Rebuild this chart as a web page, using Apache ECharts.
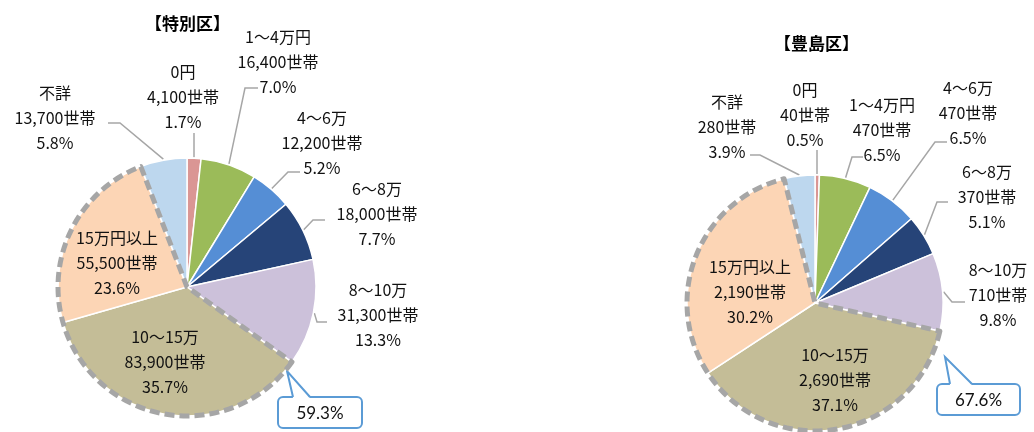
<!DOCTYPE html>
<html><head><meta charset="utf-8">
<script src="https://cdn.jsdelivr.net/npm/echarts@6/dist/echarts.min.js"></script>
<style>html,body{margin:0;padding:0;background:#fff}#c{width:1034px;height:432px}</style>
</head><body><div id="c"></div>
<script>
const categories = ['0円', '1～4万円', '4～6万', '6～8万', '8～10万', '10～15万', '15万円以上', '不詳'];
const tokubetsuHouseholds = [4100, 16400, 12200, 18000, 31300, 83900, 55500, 13700];
const tokubetsuPct = [1.7, 7.0, 5.2, 7.7, 13.3, 35.7, 23.6, 5.8];
const toshimaHouseholds = [40, 470, 470, 370, 710, 2690, 2190, 280];
const toshimaPct = [0.5, 6.5, 6.5, 5.1, 9.8, 37.1, 30.2, 3.9];
const titles = ['【特別区】', '【豊島区】'];
const sliceColors = ['#DA9694', '#9BBB59', '#558ED5', '#264478', '#CCC1DA', '#C4BD97', '#FCD5B5', '#BDD7EE'];
const highlighted = [5, 6]; // 10～15万 + 15万円以上

const FONT = '"Noto Sans CJK JP", sans-serif';
const insideIdx = new Set(highlighted);

// ---- layout only: label block centres and leader elbows/ends ----
const leftLabelPos = [[183, 97], [278, 62], [322, 143], [377, 214], [378, 315], [165, 362], [117, 263], [55, 118]];
const rightLabelPos = [[805, 115], [882, 130], [968, 113], [987, 197], [998, 295], [835, 380], [750, 292], [727, 127]];
const leftLeader = { 0: [[194, 133], [194, 133]], 1: [[245, 88], [258, 88]], 2: [[288, 172], [300, 172]], 3: [[313, 220], [325, 220]], 4: [[317, 322], [327, 322]], 7: [[120, 123], [108, 123]] };
const rightLeader = { 0: [[817, 150], [817, 150]], 1: [[852, 157], [863, 157]], 2: [[935, 142], [947, 142]], 3: [[937, 202], [948, 202]], 4: [[952, 302], [965, 302]], 7: [[760, 155], [750, 155]] };

function fmt(n) { return n.toLocaleString('en-US'); }

function midArcPoint(values, idx, center, radius) {
  const total = values.reduce((a, b) => a + b, 0);
  const before = values.slice(0, idx).reduce((a, b) => a + b, 0);
  const frac = (before + values[idx] / 2) / total;
  const ang = frac * 2 * Math.PI; // clockwise from top
  return [center[0] + (radius + 1) * Math.sin(ang), center[1] - (radius + 1) * Math.cos(ang)];
}

function buildPie(name, values, pcts, center, radius, posTable, leaders) {
  return {
    type: 'pie', name: name, center: center, radius: radius,
    startAngle: 90, clockwise: true, avoidLabelOverlap: false, silent: true,
    itemStyle: { borderColor: '#fff', borderWidth: 1.5 },
    label: {
      show: true, position: 'outside', fontFamily: FONT, fontSize: 16, lineHeight: 25, color: '#111',
      formatter: p => p.name + '\n' + fmt(values[p.dataIndex]) + '世帯\n' + pcts[p.dataIndex].toFixed(1) + '%'
    },
    labelLine: { show: true, length: 10, length2: 10, smooth: false, lineStyle: { color: '#A6A6A6', width: 1.5 } },
    labelLayout: p => {
      const i = p.dataIndex, q = posTable[i];
      const out = { x: q[0], y: q[1], align: 'center', verticalAlign: 'middle' };
      if (leaders[i]) {
        const s = midArcPoint(values, i, center, radius);
        if (i === 0) s[0] = leaders[i][0][0];
        out.labelLinePoints = [s, leaders[i][0], leaders[i][1]];
      }
      return out;
    },
    data: categories.map((c, i) => ({
      name: c, value: values[i], itemStyle: { color: sliceColors[i] },
      labelLine: { show: !insideIdx.has(i) }
    }))
  };
}

function buildOutline(values, center, radius) {
  const before = values.slice(0, highlighted[0]).reduce((a, b) => a + b, 0);
  const group = highlighted.reduce((a, i) => a + values[i], 0);
  const after = values.slice(highlighted[highlighted.length - 1] + 1).reduce((a, b) => a + b, 0);
  const none = { color: 'rgba(0,0,0,0)', borderWidth: 0 };
  return {
    type: 'pie', center: center, radius: radius, startAngle: 90, clockwise: true, silent: true, z: 5,
    label: { show: false }, labelLine: { show: false },
    data: [
      { value: before, itemStyle: none },
      { value: group, itemStyle: { color: 'rgba(0,0,0,0)', borderColor: '#A6A6A6', borderWidth: 5, borderType: [10, 5] } },
      { value: after, itemStyle: none }
    ]
  };
}

function groupShare(values) {
  const total = values.reduce((a, b) => a + b, 0);
  const g = highlighted.reduce((a, i) => a + values[i], 0);
  return (g / total * 100).toFixed(1) + '%';
}

function callout(x, y, w, h, tip, b1, b2, text) {
  return {
    type: 'group', z: 20, children: [
      { type: 'rect', shape: { x: x, y: y, width: w, height: h, r: 5 }, style: { fill: '#fff', stroke: '#5B9BD5', lineWidth: 2 } },
      { type: 'polygon', shape: { points: [tip, [b1, y + 1], [b2, y + 1]] }, style: { fill: '#fff', stroke: null } },
      { type: 'polyline', shape: { points: [[b1, y], tip, [b2, y]] }, style: { stroke: '#5B9BD5', lineWidth: 2, fill: null } },
      { type: 'text', style: { x: x + w / 2, y: y + h / 2 + 1, text: text, align: 'center', verticalAlign: 'middle', font: '17px Lato, "Liberation Sans", sans-serif', fill: '#111' } }
    ]
  };
}

const chart = echarts.init(document.getElementById('c'), null, { renderer: 'canvas' });
const leftCenter = [187, 287], leftR = 129;
const rightCenter = [815, 303], rightR = 128;
chart.setOption({
  backgroundColor: '#fff',
  animation: false,
  title: [
    { text: titles[0], left: 145, top: 15, padding: 0, textStyle: { fontFamily: FONT, fontSize: 17, fontWeight: 'bold', color: '#000' } },
    { text: titles[1], left: 774, top: 35, padding: 0, textStyle: { fontFamily: FONT, fontSize: 17, fontWeight: 'bold', color: '#000' } }
  ],
  series: [
    buildPie('特別区', tokubetsuHouseholds, tokubetsuPct, leftCenter, leftR, leftLabelPos, leftLeader),
    buildPie('豊島区', toshimaHouseholds, toshimaPct, rightCenter, rightR, rightLabelPos, rightLeader),
    buildOutline(tokubetsuHouseholds, leftCenter, leftR),
    buildOutline(toshimaHouseholds, rightCenter, rightR)
  ],
  graphic: [
    callout(278, 397, 84, 31, [287, 371], 293, 310, groupShare(tokubetsuHouseholds)),
    callout(937, 384, 83, 31, [945, 357], 950, 972, groupShare(toshimaHouseholds))
  ]
});
</script></body></html>
